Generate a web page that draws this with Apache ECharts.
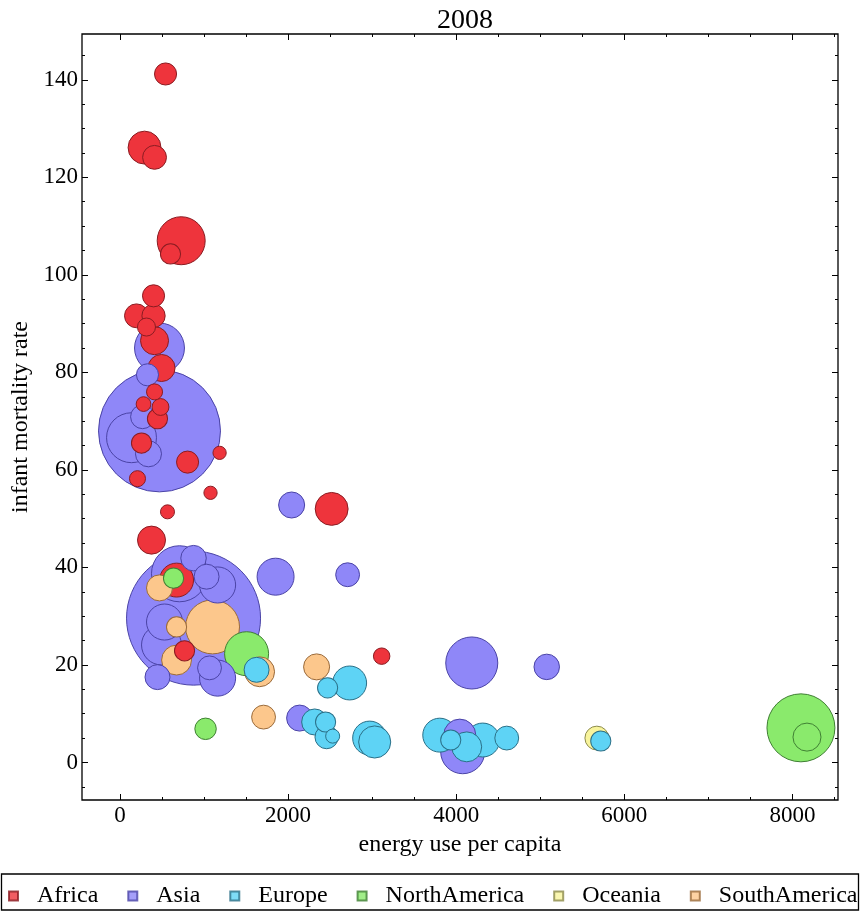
<!DOCTYPE html>
<html>
<head>
<meta charset="utf-8">
<script src="https://cdn.jsdelivr.net/npm/echarts@6/dist/echarts.min.js"></script>
<style>
  html, body { margin: 0; padding: 0; background: #fff; }
  #chart { width: 861px; height: 913px; }
</style>
</head>
<body>
<div id="chart"></div>
<script>
// [energy use per capita, infant mortality rate, bubble size]
const continents = ['Africa', 'Asia', 'Europe', 'NorthAmerica', 'Oceania', 'SouthAmerica'];

const africa = [
  [542, 141.2, 36], [292, 126.1, 80], [411, 124.1, 42], [728, 107, 170], [601, 104.3, 30],
  [399, 95.7, 36], [196, 91.6, 42], [399, 91.6, 40], [315, 89.3, 24], [411, 86.5, 58],
  [494, 80.9, 54], [411, 76.0, 19], [280, 73.5, 16], [482, 72.9, 21], [446, 70.5, 30],
  [256, 65.5, 30], [804, 61.6, 36], [1185, 63.5, 13], [208, 58.2, 19], [1077, 55.3, 13],
  [565, 51.4, 14.5], [2518, 52.0, 80], [375, 45.6, 58], [673, 37.4, 85], [768, 22.9, 30],
  [3113, 21.8, 20]
];
const asia = [
  [470, 85.0, 184], [327, 79.5, 36], [470, 68.0, 1098], [137, 66.6, 184], [268, 70.9, 42],
  [339, 63.3, 50], [2042, 52.8, 50], [875, 29.6, 1326], [875, 41.9, 48], [708, 38.7, 232],
  [1030, 38.1, 46], [1161, 36.4, 96], [530, 28.8, 96], [494, 24.1, 118], [446, 17.5, 46],
  [1065, 19.4, 42], [1161, 17.3, 96], [1851, 38.1, 101], [2708, 38.5, 42], [2137, 9.1, 50],
  [4185, 20.4, 200], [5077, 19.6, 48], [4042, 5.6, 76], [4077, 2.2, 143]
];
const europe = [
  [1625, 19.0, 46], [2732, 16.3, 85], [2470, 15.3, 30], [2316, 8.3, 50], [2446, 8.3, 30],
  [2458, 5.2, 40], [2530, 5.4, 14.5], [2970, 5.0, 85], [3030, 4.2, 76], [3804, 5.6, 85],
  [3935, 4.6, 30], [4125, 3.2, 66], [4315, 4.6, 85], [4601, 5.0, 42], [5720, 4.4, 30]
];
const northAmerica = [
  [637, 37.8, 30], [1506, 22.3, 143], [1018, 6.9, 34], [8101, 7.1, 341], [8173, 5.2, 58]
];
const oceania = [
  [5673, 5.0, 42]
];
const southAmerica = [
  [470, 35.8, 50], [673, 27.8, 30], [1101, 27.8, 215], [673, 21.0, 66], [1661, 18.6, 66],
  [2339, 19.6, 50], [1708, 9.3, 42]
];

const xMajorTicks = [0, 2000, 4000, 6000, 8000];
const xMinorTicks = [0, 500, 1000, 1500, 2000, 2500, 3000, 3500, 4000, 4500, 5000, 5500, 6000, 6500, 7000, 7500, 8000, 8500];
const yMajorTicks = [0, 20, 40, 60, 80, 100, 120, 140];
const yMinorTicks = [-5, 0, 5, 10, 15, 20, 25, 30, 35, 40, 45, 50, 55, 60, 65, 70, 75, 80, 85, 90, 95, 100, 105, 110, 115, 120, 125, 130, 135, 140, 145];

const fills = ['#ee343c', '#8f87f8', '#5ed3f5', '#8aea6c', '#f8f49c', '#fcc78c'];
const edges = ['#8a1c22', '#4a43a6', '#2a6f87', '#3f7f33', '#8b8a4a', '#9a6a3a'];

const groups = [africa, asia, europe, northAmerica, oceania, southAmerica];

// bigger bubbles go underneath, like Mathematica does it
let bubbles = [];
groups.forEach(function (g, i) {
  g.forEach(function (d) {
    bubbles.push({
      value: d,
      name: continents[i],
      itemStyle: { color: fills[i], borderColor: edges[i] }
    });
  });
});
bubbles.sort(function (a, b) { return b.value[2] - a.value[2]; });

const font = 'Liberation Serif';
const xMin = -452, xMax = 8542, yMin = -7.7, yMax = 149.4;

function tickAxis(pos, vals, len, labels) {
  let horiz = pos === 'bottom' || pos === 'top';
  return {
    type: 'value',
    position: pos,
    min: horiz ? xMin : yMin,
    max: horiz ? xMax : yMax,
    axisLine: { show: false, onZero: false },
    splitLine: { show: false },
    axisTick: { show: true, inside: true, length: len, customValues: vals, lineStyle: { color: '#000', width: 1 } },
    axisLabel: labels
      ? {
          show: true, customValues: vals, color: '#000', fontFamily: font, fontSize: 23, margin: 4,
          formatter: function (v) { return String(v); }
        }
      : { show: false }
  };
}

const chart = echarts.init(document.getElementById('chart'));

let xAxes = [
  tickAxis('bottom', xMajorTicks, 6, true),
  tickAxis('bottom', xMinorTicks, 3, false),
  tickAxis('top', xMajorTicks, 6, false),
  tickAxis('top', xMinorTicks, 3, false)
];
xAxes[0].name = 'energy use per capita';
xAxes[0].nameLocation = 'middle';
xAxes[0].nameGap = 33;
xAxes[0].nameTextStyle = { color: '#000', fontFamily: font, fontSize: 24 };

let yAxes = [
  tickAxis('left', yMajorTicks, 6, true),
  tickAxis('left', yMinorTicks, 3, false),
  tickAxis('right', yMajorTicks, 6, false),
  tickAxis('right', yMinorTicks, 3, false)
];
yAxes[0].name = 'infant mortality rate';
yAxes[0].nameLocation = 'middle';
yAxes[0].nameGap = 40;
yAxes[0].nameTextStyle = { color: '#000', fontFamily: font, fontSize: 24 };

let series = continents.map(function (c, i) {
  return {
    name: c,
    type: 'scatter',
    data: [],
    itemStyle: { color: fills[i], borderColor: edges[i], borderWidth: 1 }
  };
});
series.push({
  name: 'bubbles',
  type: 'scatter',
  xAxisIndex: 0,
  yAxisIndex: 0,
  data: bubbles,
  symbolSize: function (v) { return 2 * 1.84 * Math.sqrt(v[2]); },
  itemStyle: { borderWidth: 1, opacity: 1 },
  emphasis: { disabled: true }
});

let option = {
  animation: false,
  backgroundColor: '#fff',
  title: {
    text: '2008',
    left: 460,
    top: 2,
    textAlign: 'center',
    textStyle: { color: '#000', fontFamily: font, fontSize: 28, fontWeight: 'normal' }
  },
  grid: {
    left: 82,
    right: 23,
    top: 34,
    bottom: 113,
    show: true,
    borderColor: '#000',
    borderWidth: 1.3,
    backgroundColor: 'transparent'
  },
  legend: {
    data: continents,
    left: 8,
    top: 884,
    width: 853,
    padding: 0,
    icon: 'rect',
    itemWidth: 9,
    itemHeight: 9,
    itemGap: 29,
    textStyle: { color: '#000', fontFamily: font, fontSize: 24, padding: [0, 0, 0, 14] }
  },
  graphic: [{
    type: 'rect',
    shape: { x: 1.5, y: 874, width: 857, height: 36 },
    style: { fill: 'none', stroke: '#000', lineWidth: 1.3 }
  }],
  xAxis: xAxes,
  yAxis: yAxes,
  series: series
};

chart.setOption(option);
</script>
</body>
</html>
